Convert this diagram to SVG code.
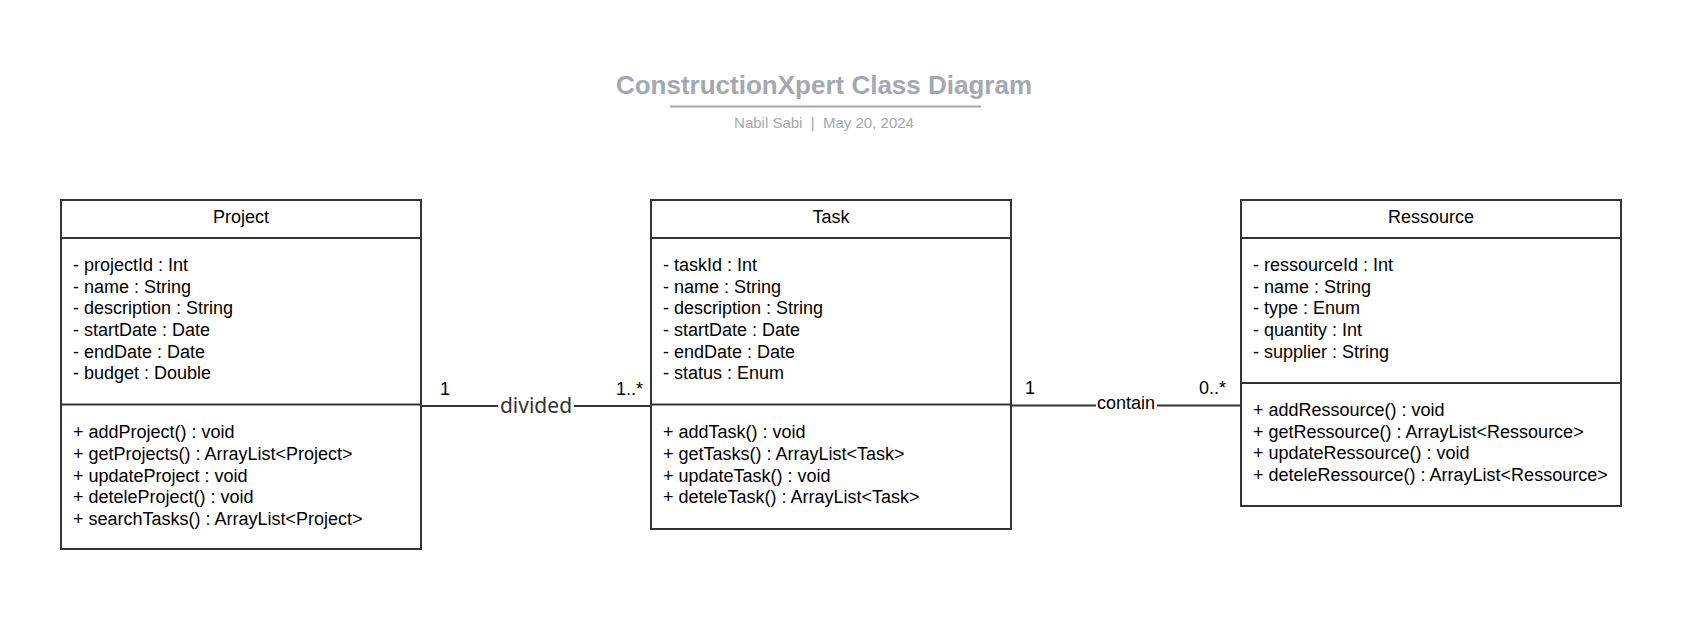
<svg xmlns="http://www.w3.org/2000/svg" width="1701" height="637" viewBox="0 0 1701 637">
<style>
.box{fill:#ffffff;stroke:#333333;stroke-width:2}
.sep{stroke:#333333;stroke-width:2}
.t{font-family:"Liberation Sans",Arial,sans-serif;font-size:18px;fill:#000000}
.c{text-anchor:middle}
.e{text-anchor:end}
.conn{stroke:#333333;stroke-width:2;fill:none}
.title{font-family:"Liberation Sans",Arial,sans-serif;font-size:26px;font-weight:bold;fill:#a3a8b1;text-anchor:middle}
.sub{font-family:"Liberation Sans",Arial,sans-serif;font-size:15px;fill:#a3a8b1;text-anchor:middle;white-space:pre}
.lbl2{font-family:"Noto Sans","Open Sans",sans-serif;font-size:21px;fill:#333333;text-anchor:middle}
</style>
<rect width="1701" height="637" fill="#ffffff"/>
<g id="header">
<text class="title" x="824" y="94">ConstructionXpert Class Diagram</text>
<line x1="670" y1="106.5" x2="981" y2="106.5" stroke="#a3a8b1" stroke-width="2"/>
<text class="sub" x="824" y="127.5" xml:space="preserve">Nabil Sabi  |  May 20, 2024</text>
</g>
<g id="connectors">
<line class="conn" x1="421" y1="406" x2="651" y2="406"/>
<rect x="498" y="394" width="76" height="22" fill="#ffffff"/>
<text class="lbl2" x="536" y="413">divided</text>
<text class="t" x="440" y="395">1</text>
<text class="t e" x="643" y="395">1..*</text>
<line class="conn" x1="1011" y1="405.5" x2="1241" y2="405.5"/>
<rect x="1096" y="395" width="61" height="18" fill="#ffffff"/>
<text class="t c" x="1126" y="408.5">contain</text>
<text class="t" x="1025" y="394">1</text>
<text class="t e" x="1226" y="394">0..*</text>
</g>
<g id="project">
<rect class="box" x="61" y="200" width="360" height="349"/>
<line class="sep" x1="61" y1="238" x2="421" y2="238"/>
<line class="sep" x1="61" y1="404.5" x2="421" y2="404.5"/>
<text class="t c" x="241" y="222.7">Project</text>
<text class="t" x="73" y="271">- projectId : Int</text>
<text class="t" x="73" y="292.7">- name : String</text>
<text class="t" x="73" y="314.3">- description : String</text>
<text class="t" x="73" y="336">- startDate : Date</text>
<text class="t" x="73" y="357.7">- endDate : Date</text>
<text class="t" x="73" y="379.3">- budget : Double</text>
<text class="t" x="73" y="438.3">+ addProject() : void</text>
<text class="t" x="73" y="460">+ getProjects() : ArrayList&lt;Project&gt;</text>
<text class="t" x="73" y="481.7">+ updateProject : void</text>
<text class="t" x="73" y="503.3">+ deteleProject() : void</text>
<text class="t" x="73" y="525">+ searchTasks() : ArrayList&lt;Project&gt;</text>
</g>
<g id="task">
<rect class="box" x="651" y="200" width="360" height="329"/>
<line class="sep" x1="651" y1="238" x2="1011" y2="238"/>
<line class="sep" x1="651" y1="404.5" x2="1011" y2="404.5"/>
<text class="t c" x="831" y="222.7">Task</text>
<text class="t" x="663" y="271">- taskId : Int</text>
<text class="t" x="663" y="292.7">- name : String</text>
<text class="t" x="663" y="314.3">- description : String</text>
<text class="t" x="663" y="336">- startDate : Date</text>
<text class="t" x="663" y="357.7">- endDate : Date</text>
<text class="t" x="663" y="379.3">- status : Enum</text>
<text class="t" x="663" y="438.3">+ addTask() : void</text>
<text class="t" x="663" y="460">+ getTasks() : ArrayList&lt;Task&gt;</text>
<text class="t" x="663" y="481.7">+ updateTask() : void</text>
<text class="t" x="663" y="503.3">+ deteleTask() : ArrayList&lt;Task&gt;</text>
</g>
<g id="ressource">
<rect class="box" x="1241" y="200" width="380" height="306"/>
<line class="sep" x1="1241" y1="238" x2="1621" y2="238"/>
<line class="sep" x1="1241" y1="383" x2="1621" y2="383"/>
<text class="t c" x="1431" y="222.7">Ressource</text>
<text class="t" x="1253" y="271">- ressourceId : Int</text>
<text class="t" x="1253" y="292.7">- name : String</text>
<text class="t" x="1253" y="314.3">- type : Enum</text>
<text class="t" x="1253" y="336">- quantity : Int</text>
<text class="t" x="1253" y="357.7">- supplier : String</text>
<text class="t" x="1253" y="416">+ addRessource() : void</text>
<text class="t" x="1253" y="437.7">+ getRessource() : ArrayList&lt;Ressource&gt;</text>
<text class="t" x="1253" y="459.3">+ updateRessource() : void</text>
<text class="t" x="1253" y="481">+ deteleRessource() : ArrayList&lt;Ressource&gt;</text>
</g>
</svg>
